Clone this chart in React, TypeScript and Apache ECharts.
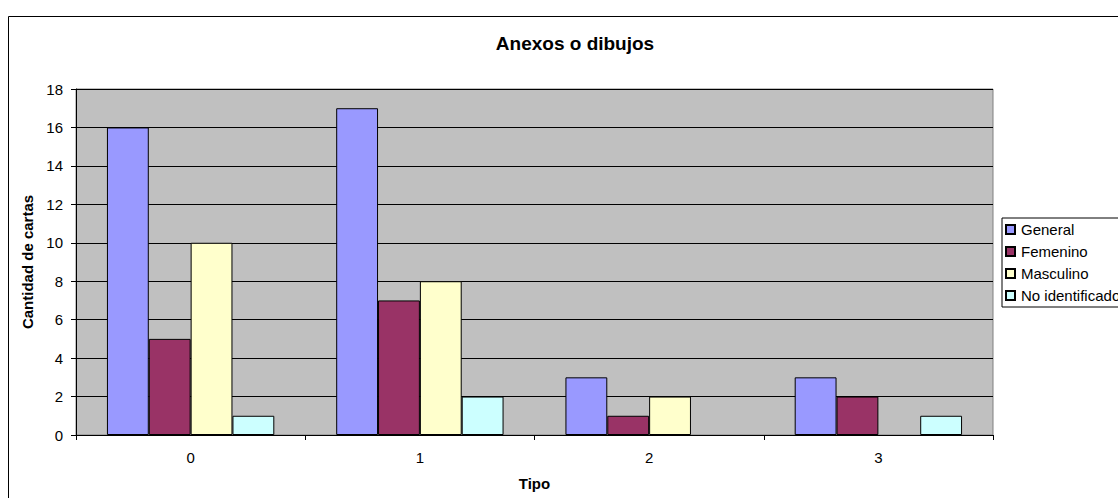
import React, { useEffect, useRef } from "react";
import * as echarts from "echarts";

const categories = ["0", "1", "2", "3"];
const seriesNames = ["General", "Femenino", "Masculino", "No identificado"];
const general = [16, 17, 3, 3];
const femenino = [5, 7, 1, 2];
const masculino = [10, 8, 2, 0];
const noIdentificado = [1, 2, 0, 1];
const colors = ["#9999FF", "#993366", "#FFFFCC", "#CCFFFF"];

export default function App() {
  const ref = useRef<HTMLDivElement>(null);
  useEffect(() => {
    if (!ref.current) return;
    const chart = echarts.init(ref.current, null, { renderer: "svg" });
    const values = [general, femenino, masculino, noIdentificado];
    const font = "Arial, 'Liberation Sans', sans-serif";
    chart.setOption({
      animation: false,
      textStyle: { fontFamily: font, color: "#000" },
      title: {
        text: "Anexos o dibujos",
        left: 562,
        textAlign: "center",
        top: 21,
        textStyle: { fontSize: 19, fontWeight: "bold", color: "#000", fontFamily: font },
      },
      graphic: [
        {
          type: "rect",
          shape: { x: 0.5, y: 8.5, width: 1300, height: 700 },
          style: { fill: "none", stroke: "#000", lineWidth: 1 },
          silent: true,
          z: -10,
        },
      ],
      legend: {
        orient: "vertical",
        left: 994,
        top: 210,
        itemWidth: 9,
        itemHeight: 9,
        itemGap: 7,
        padding: [4, 40, 4, 3],
        borderColor: "#000",
        borderWidth: 1,
        textStyle: { fontSize: 15, color: "#000", fontFamily: font, padding: [0, 0, 0, 1] },
        data: seriesNames.map((n) => ({ name: n, icon: "rect" })),
      },
      grid: {
        left: 68,
        top: 81,
        width: 917,
        height: 346,
        show: true,
        backgroundColor: "#C0C0C0",
        borderColor: "#808080",
        borderWidth: 1,
      },
      xAxis: {
        type: "category",
        data: categories,
        name: "Tipo",
        nameLocation: "middle",
        nameGap: 41,
        nameTextStyle: { fontSize: 15, fontWeight: "bold", color: "#000", fontFamily: font },
        axisLine: { lineStyle: { color: "#000" } },
        axisTick: { show: true, length: 5, lineStyle: { color: "#000" } },
        axisLabel: { fontSize: 15, color: "#000", margin: 15, fontFamily: font },
      },
      yAxis: {
        type: "value",
        min: 0,
        max: 18,
        interval: 2,
        name: "Cantidad de cartas",
        nameLocation: "middle",
        nameRotate: 90,
        nameGap: 39,
        nameTextStyle: { fontSize: 15, fontWeight: "bold", color: "#000", fontFamily: font },
        axisLine: { show: true, lineStyle: { color: "#000" } },
        axisTick: { show: true, length: 5, lineStyle: { color: "#000" } },
        axisLabel: { fontSize: 15, color: "#000", margin: 13, fontFamily: font },
        splitLine: { show: true, lineStyle: { color: "#000", width: 1 } },
      },
      series: seriesNames.map((name, i) => ({
        name,
        type: "bar",
        data: values[i].map((v) => (v === 0 ? "-" : v)),
        barGap: "0%",
        barCategoryGap: "27%",
        itemStyle: { color: colors[i], borderColor: "#000", borderWidth: 1 },
      })),
    });
    return () => chart.dispose();
  }, []);
  return (
    <div
      ref={ref}
      style={{ position: "absolute", left: 8, top: 8, width: 1110, height: 490 }}
    />
  );
}
